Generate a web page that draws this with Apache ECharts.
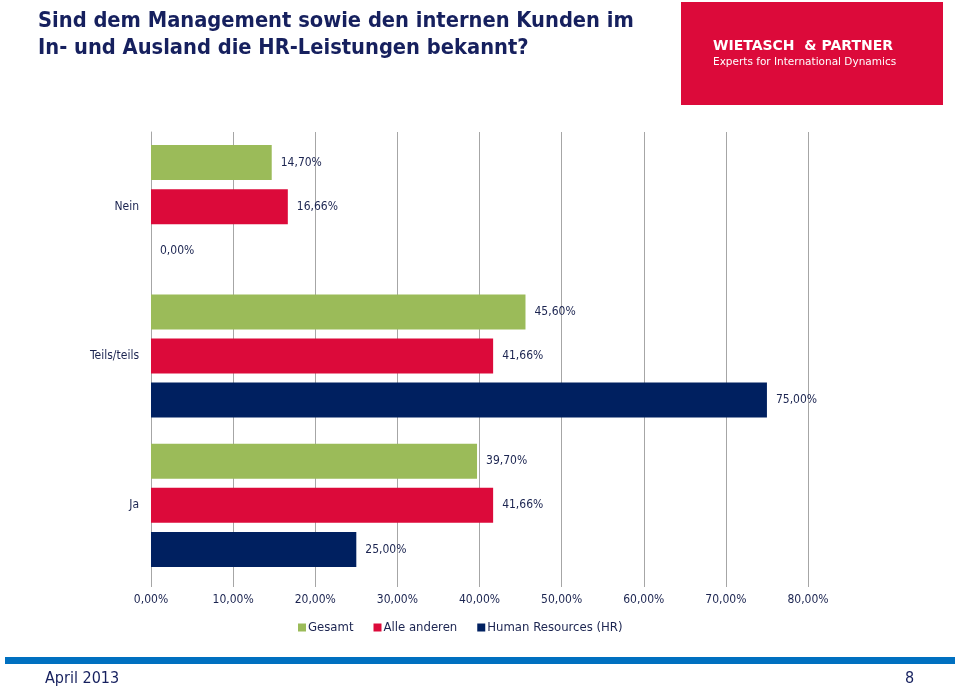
<!DOCTYPE html>
<html><head><meta charset="utf-8">
<script src="https://cdn.jsdelivr.net/npm/echarts@6/dist/echarts.min.js"></script>
<style>html,body{margin:0;padding:0;background:#fff}#c{width:960px;height:691px}</style>
</head><body><div id="c"></div>
<script>
const categories = ['Nein', 'Teils/teils', 'Ja'];
const seriesNames = ['Gesamt', 'Alle anderen', 'Human Resources (HR)'];
const gesamt = [14.70, 45.60, 39.70];
const alleAnderen = [16.66, 41.66, 41.66];
const hr = [0.00, 75.00, 25.00];
const colors = ['#9BBB59', '#DC0A3A', '#002060'];
const FONT = 'DejaVu Sans Condensed';
const TXT = '#1b2450';

const fmt = v => Number(v).toFixed(2).replace('.', ',') + '%';
const chart = echarts.init(document.getElementById('c'));
const mk = (name, data, i) => ({
  name, type: 'bar', data, barWidth: 35, barGap: '26%',
  itemStyle: { color: colors[i] },
  label: { show: true, position: 'right', distance: 9, formatter: p => fmt(p.value),
    color: TXT, fontFamily: FONT, fontSize: 12 }
});
chart.setOption({
  animation: false,
  grid: { left: 151, right: 152, top: 132, bottom: 111, containLabel: false },
  legend: { bottom: 52, left: 293, itemWidth: 8, itemHeight: 8, itemGap: 20,
    icon: 'rect', textStyle: { fontFamily: FONT, fontSize: 13, color: TXT, padding: [0, 0, 0, -3] },
    data: seriesNames },
  xAxis: { type: 'value', min: 0, max: 80, interval: 10,
    axisLine: { show: false },
    axisTick: { show: true, length: 7, lineStyle: { color: '#a6a6a6' } },
    splitLine: { show: true, lineStyle: { color: '#a6a6a6', width: 1 } },
    axisLabel: { formatter: fmt, color: TXT, fontFamily: FONT, fontSize: 12, margin: 14 } },
  yAxis: { type: 'category', data: categories, inverse: true,
    axisLine: { show: true, lineStyle: { color: '#a6a6a6' } },
    axisTick: { show: false },
    axisLabel: { color: TXT, fontFamily: FONT, fontSize: 12, margin: 12 } },
  series: [mk(seriesNames[0], gesamt, 0), mk(seriesNames[1], alleAnderen, 1), mk(seriesNames[2], hr, 2)],
  graphic: [
    { type: 'text', left: 38, top: 8, style: { text: 'Sind dem Management sowie den internen Kunden im\nIn- und Ausland die HR-Leistungen bekannt?',
      fill: '#16205e', font: 'bold 21.7px "DejaVu Sans Condensed"', lineHeight: 27 } },
    { type: 'rect', shape: { x: 681, y: 2, width: 262, height: 103 }, style: { fill: '#DC0A3A' } },
    { type: 'text', left: 713, top: 39, style: { text: 'WIETASCH  & PARTNER', fill: '#fff', font: 'bold 14px "DejaVu Sans"' } },
    { type: 'text', left: 713, top: 57, style: { text: 'Experts for International Dynamics', fill: '#fff', font: '10.5px "DejaVu Sans"' } },
    { type: 'rect', shape: { x: 5, y: 657, width: 950, height: 7 }, style: { fill: '#0070C0' } },
    { type: 'text', left: 45, top: 671, style: { text: 'April 2013', fill: '#16205e', font: '16px "DejaVu Sans Condensed"' } },
    { type: 'text', left: 905, top: 671, style: { text: '8', fill: '#16205e', font: '16px "DejaVu Sans Condensed"' } }
  ]
});
</script></body></html>
